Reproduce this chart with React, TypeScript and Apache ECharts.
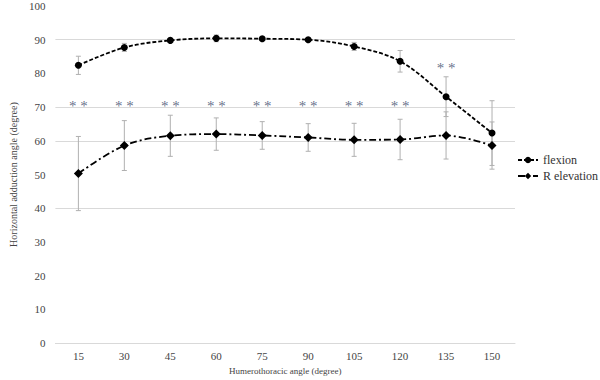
import React, { useEffect, useRef } from "react";
import * as echarts from "echarts";

const categories = ["15", "30", "45", "60", "75", "90", "105", "120", "135", "150"];
const flexion = [82.4, 87.7, 89.8, 90.4, 90.3, 90.0, 88.0, 83.6, 73.1, 62.3];
const flexionSD = [2.7, 1.2, 0.6, 1.0, 0.6, 0.5, 1.2, 3.2, 5.9, 9.6];
const rElevation = [50.3, 58.6, 61.5, 62.0, 61.6, 61.0, 60.3, 60.4, 61.6, 58.6];
const rElevationSD = [11.0, 7.4, 6.1, 4.8, 4.1, 4.1, 4.9, 6.0, 7.0, 7.0];
const sigMarks = [71.5, 71.5, 71.5, 71.5, 71.5, 71.5, 71.5, 71.5, 82.9, null];
const gridColors = ["#d9d9d9", "transparent", "transparent", "transparent", "#d9d9d9", "transparent", "#d9d9d9", "#d9d9d9", "transparent", "#d9d9d9", "transparent"];

const FONT = "'Liberation Serif', 'DejaVu Serif', serif";

function errorData(vals: number[], sds: number[]) {
  return vals.map((v, i) => [i, v - sds[i], v + sds[i]]);
}

function errorRender(params: any, api: any) {
  const lo = api.coord([api.value(0), api.value(1)]);
  const hi = api.coord([api.value(0), api.value(2)]);
  const w = 2.5;
  const style = { stroke: "#b0b0b0", lineWidth: 1 };
  return {
    type: "group",
    children: [
      { type: "line", shape: { x1: lo[0], y1: lo[1], x2: hi[0], y2: hi[1] }, style },
      { type: "line", shape: { x1: lo[0] - w, y1: lo[1], x2: lo[0] + w, y2: lo[1] }, style },
      { type: "line", shape: { x1: hi[0] - w, y1: hi[1], x2: hi[0] + w, y2: hi[1] }, style },
    ],
  };
}

export default function App() {
  const ref = useRef<HTMLDivElement>(null);
  useEffect(() => {
    if (!ref.current) return;
    const chart = echarts.init(ref.current, null, { renderer: "svg" });
    chart.setOption({
      animation: false,
      backgroundColor: "#ffffff",
      textStyle: { fontFamily: FONT },
      grid: { left: 42, right: 85, top: 6, bottom: 29 },
      legend: {
        orient: "vertical",
        left: 512,
        top: 149,
        itemWidth: 20,
        itemHeight: 8,
        itemGap: 4,
        textStyle: { fontFamily: FONT, fontSize: 12, color: "#333" },
        data: ["flexion", "R elevation"],
      },
      xAxis: {
        type: "category",
        data: categories,
        boundaryGap: true,
        name: "Humerothoracic angle (degree)",
        nameLocation: "middle",
        nameGap: 20,
        nameTextStyle: { fontFamily: FONT, fontSize: 9, color: "#444" },
        axisLine: { show: true, lineStyle: { color: "#d9d9d9" } },
        axisTick: { show: false },
        axisLabel: { fontFamily: FONT, fontSize: 11, color: "#444", margin: 7 },
        splitLine: { show: false },
      },
      yAxis: {
        type: "value",
        min: 0,
        max: 100,
        interval: 10,
        name: "Horizontal adduction angle (degree)",
        nameLocation: "middle",
        nameGap: 30,
        nameTextStyle: { fontFamily: FONT, fontSize: 10, color: "#444" },
        axisLine: { show: false },
        axisTick: { show: false },
        axisLabel: { fontFamily: FONT, fontSize: 11, color: "#444", margin: 10 },
        splitLine: { show: true, lineStyle: { color: gridColors, width: 1 } },
      },
      series: [
        {
          type: "custom",
          name: "flexionErr",
          renderItem: errorRender,
          data: errorData(flexion, flexionSD),
          z: 1,
          silent: true,
        },
        {
          type: "custom",
          name: "rElevErr",
          renderItem: errorRender,
          data: errorData(rElevation, rElevationSD),
          z: 1,
          silent: true,
        },
        {
          type: "line",
          name: "flexion",
          data: flexion,
          smooth: 0.35,
          symbol: "circle",
          symbolSize: 7,
          itemStyle: { color: "#000" },
          lineStyle: { color: "#000", width: 1.8, type: [4, 2] },
          z: 3,
        },
        {
          type: "line",
          name: "R elevation",
          data: rElevation,
          smooth: 0.35,
          symbol: "diamond",
          symbolSize: 9,
          itemStyle: { color: "#000" },
          lineStyle: { color: "#000", width: 1.8, type: [7, 3, 2, 3] },
          z: 3,
        },
        {
          type: "scatter",
          name: "sig",
          data: sigMarks.map((v, i) => (v == null ? [i, null] : [i, v])),
          symbolSize: 1,
          itemStyle: { color: "transparent" },
          label: {
            show: true,
            position: "inside",
            formatter: "* *",
            fontFamily: FONT,
            fontSize: 15,
            color: "#3b4a6b",
            offset: [0, 4],
          },
          z: 4,
          silent: true,
        },
      ],
    });
    return () => chart.dispose();
  }, []);
  return (
    <div
      ref={ref}
      style={{ position: "fixed", left: 0, top: 0, width: 600, height: 380 }}
    />
  );
}
